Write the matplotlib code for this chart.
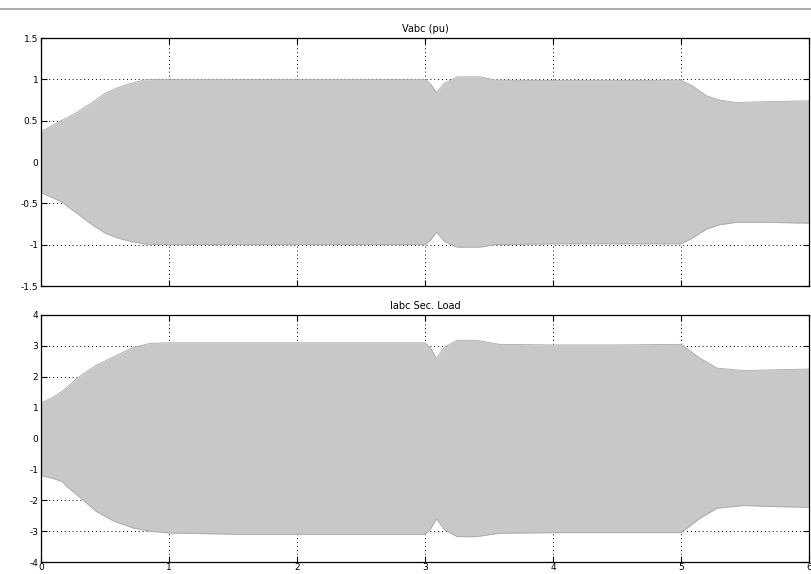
import matplotlib
matplotlib.use("Agg")
import matplotlib.pyplot as plt
from matplotlib.lines import Line2D

# Envelope of the three-phase waveforms
t_v = [0.0, 0.1, 0.17, 0.2, 0.28, 0.4, 0.5, 0.6, 0.7, 0.8, 0.9, 1.5, 2.0, 2.5, 3.0, 3.04, 3.09, 3.15, 3.25, 3.43, 3.55, 4.0, 4.5, 5.0, 5.09, 5.2, 5.3, 5.43, 5.67, 6.0]
v_up = [0.37, 0.45, 0.51, 0.53, 0.60, 0.72, 0.83, 0.90, 0.95, 0.99, 1.0, 1.0, 1.0, 1.0, 1.0, 0.95, 0.84, 0.95, 1.03, 1.03, 0.99, 0.985, 0.985, 0.99, 0.92, 0.80, 0.75, 0.72, 0.73, 0.74]
v_lo = [-0.37, -0.44, -0.49, -0.53, -0.62, -0.76, -0.86, -0.92, -0.96, -0.99, -1.0, -1.0, -1.0, -1.0, -1.0, -0.95, -0.85, -0.96, -1.03, -1.03, -1.0, -0.99, -0.99, -0.99, -0.92, -0.81, -0.76, -0.73, -0.73, -0.74]

t_i = [0.0, 0.1, 0.17, 0.2, 0.28, 0.43, 0.57, 0.72, 0.85, 1.0, 1.5, 2.0, 2.5, 3.0, 3.04, 3.09, 3.15, 3.25, 3.4, 3.58, 4.0, 4.5, 5.0, 5.15, 5.28, 5.49, 5.67, 6.0]
i_up = [1.15, 1.35, 1.55, 1.65, 1.95, 2.37, 2.65, 2.95, 3.08, 3.1, 3.1, 3.1, 3.1, 3.1, 2.95, 2.6, 2.95, 3.18, 3.18, 3.05, 3.03, 3.03, 3.05, 2.6, 2.28, 2.2, 2.22, 2.25]
i_lo = [-1.2, -1.3, -1.41, -1.55, -1.82, -2.36, -2.68, -2.9, -3.0, -3.06, -3.1, -3.1, -3.1, -3.1, -2.95, -2.6, -2.95, -3.18, -3.18, -3.07, -3.05, -3.05, -3.05, -2.58, -2.26, -2.17, -2.2, -2.23]

titles = ["Vabc (pu)", "Iabc Sec. Load"]
x_ticks = [0, 1, 2, 3, 4, 5, 6]
v_ticks = [-1.5, -1, -0.5, 0, 0.5, 1, 1.5]
v_labels = ["-1.5", "-1", "-0.5", "0", "0.5", "1", "1.5"]
i_ticks = [-4, -3, -2, -1, 0, 1, 2, 3, 4]
i_labels = ["-4", "-3", "-2", "-1", "0", "1", "2", "3", "4"]

plt.rcParams['font.family'] = ['DejaVu Sans']
fig = plt.figure(figsize=(8.11, 5.74), dpi=100)
fig.add_artist(Line2D([0, 1], [1 - 9/574, 1 - 9/574], color="#a0a0a0", lw=1.2, transform=fig.transFigure))

W, H = 811, 574
def pos(top, bottom, left=41, right=809):
    return [left / W, 1 - bottom / H, (right - left) / W, (bottom - top) / H]

ax1 = fig.add_axes(pos(38, 286))
ax2 = fig.add_axes(pos(315, 562))

specs = [
    (ax1, t_v, v_up, v_lo, (-1.5, 1.5), v_ticks, v_labels, titles[0], False),
    (ax2, t_i, i_up, i_lo, (-4, 4), i_ticks, i_labels, titles[1], True),
]
for ax, t, up, lo, ylim, yt, yl, title, show_x in specs:
    ax.fill_between(t, lo, up, color="#c8c8c8", lw=0, zorder=2)
    ax.plot(t, up, color="#a8a8a8", lw=0.6, zorder=2)
    ax.plot(t, lo, color="#a8a8a8", lw=0.6, zorder=2)
    ax.set_xlim(0, 6)
    ax.set_ylim(*ylim)
    ax.set_xticks(x_ticks)
    if show_x:
        ax.set_xticklabels([str(x) for x in x_ticks])
    else:
        ax.set_xticklabels([])
    ax.set_yticks(yt)
    ax.set_yticklabels(yl)
    ax.set_axisbelow(True)
    ax.grid(True, color="black", linestyle=(0, (1, 3)), lw=0.7, zorder=0)
    ax.tick_params(direction="in", length=4, width=0.8, top=True, right=True,
                   labelsize=6.5, pad=2, colors="black")
    ax.tick_params(axis="x", pad=1)
    for s in ax.spines.values():
        s.set_linewidth(0.9)
        s.set_color("black")
        s.set_zorder(4)
    ax.set_title(title, fontsize=7, pad=4)

fig.savefig("out.png", dpi=100)
